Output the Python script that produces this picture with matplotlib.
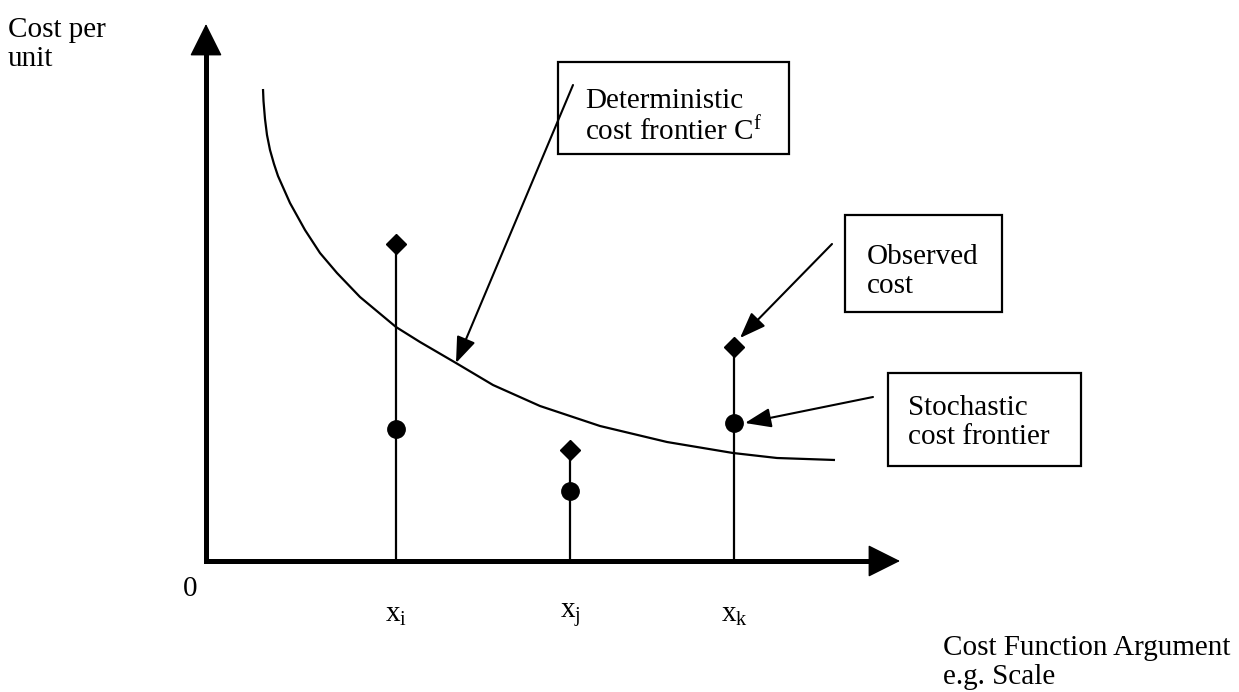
import matplotlib
matplotlib.use('Agg')
import matplotlib.pyplot as plt
from matplotlib.patches import Rectangle

plt.rcParams['font.family'] = ['Liberation Serif', 'DejaVu Serif']
plt.rcParams['mathtext.fontset'] = 'custom'
plt.rcParams['mathtext.rm'] = 'Liberation Serif'
plt.rcParams['mathtext.it'] = 'Liberation Serif'

# observation positions on the cost function argument axis
obs_labels = ['$\\mathrm{x_i}$', '$\\mathrm{x_j}$', '$\\mathrm{x_k}$']
obs_x = [1.90, 3.64, 5.28]
observed_cost = [3.17, 1.11, 2.14]      # diamonds
stochastic_cost = [1.32, 0.70, 1.38]    # circles

# deterministic cost frontier
frontier_x = [0.57, 0.575, 0.59, 0.61, 0.64, 0.68, 0.72, 0.84, 0.99, 1.14,
              1.31, 1.54, 1.90, 2.14, 2.50, 2.87, 3.34, 3.94, 4.61, 5.27,
              5.71, 6.29]
frontier_y = [4.72, 4.60, 4.42, 4.26, 4.11, 3.97, 3.85, 3.58, 3.31, 3.08,
              2.88, 2.64, 2.34, 2.19, 1.98, 1.76, 1.55, 1.35, 1.19, 1.08,
              1.03, 1.01]

fig = plt.figure(figsize=(12.39, 6.92), dpi=100)
ax = fig.add_axes([0, 0, 1, 1])
ax.set_xlim(-2.06, 10.33)
ax.set_ylim(-1.31, 5.61)
ax.axis('off')

fs = 21
ls = 1.15

# axes: thick lines meeting in a square corner, plus arrow heads
ax.plot([0, 6.75], [0, 0], color='black', lw=3.6, solid_capstyle='projecting')
ax.plot([0, 0], [0, 5.18], color='black', lw=3.6, solid_capstyle='projecting')
axis_arrow = dict(arrowstyle='-|>,head_length=2.1,head_width=1.05',
                  mutation_scale=10, lw=1.0, color='black',
                  shrinkA=0, shrinkB=0)
ax.annotate('', xy=(6.94, 0), xytext=(6.6, 0), arrowprops=axis_arrow)
ax.annotate('', xy=(0, 5.37), xytext=(0, 5.0), arrowprops=axis_arrow)

# frontier curve
ax.plot(frontier_x, frontier_y, color='black', lw=1.6, solid_capstyle='butt',
        solid_joinstyle='round')

# stems and markers
ax.vlines(obs_x, 0, observed_cost, color='black', lw=1.6)
ax.plot(obs_x, observed_cost, 'D', color='black', markersize=10)
ax.plot(obs_x, stochastic_cost, 'o', color='black', markersize=12.5)

# labels
for x, lab in zip(obs_x, obs_labels):
    ax.text(x, -0.54, lab, fontsize=fs, ha='center', va='center')
ax.text(-0.16, -0.28, '0', fontsize=fs, ha='center', va='center')
ax.text(-1.98, 5.44, 'Cost per\nunit', fontsize=fs, ha='left', va='top',
        linespacing=ls)
ax.text(7.37, -0.74, 'Cost Function Argument\ne.g. Scale', fontsize=fs,
        ha='left', va='top', linespacing=ls)

# text boxes
for x0, y0, w, h in [(3.52, 4.07, 2.31, 0.92),
                     (6.39, 2.49, 1.57, 0.97),
                     (6.82, 0.95, 1.93, 0.93)]:
    ax.add_patch(Rectangle((x0, y0), w, h, facecolor='white',
                           edgecolor='black', lw=1.6, zorder=3))

ax.text(3.79, 4.44, 'Deterministic\ncost frontier C$^{\\mathrm{f}}$', fontsize=fs,
        ha='left', va='center', linespacing=ls, zorder=4)
ax.text(6.61, 2.89, 'Observed\ncost', fontsize=fs, ha='left', va='center',
        linespacing=ls, zorder=4)
ax.text(7.02, 1.385, 'Stochastic\ncost frontier', fontsize=fs, ha='left',
        va='center', linespacing=ls, zorder=4)

# pointer arrows
ptr = dict(arrowstyle='-|>,head_length=1.6,head_width=0.6', mutation_scale=10,
           lw=1.5, color='black', shrinkA=0, shrinkB=0)
ax.annotate('', xy=(2.50, 1.98), xytext=(3.67, 4.76), arrowprops=ptr)
ax.annotate('', xy=(5.34, 2.23), xytext=(6.26, 3.17), arrowprops=ptr)
ax.annotate('', xy=(5.39, 1.38), xytext=(6.67, 1.64), arrowprops=ptr)

fig.savefig('out.png', dpi=100)
